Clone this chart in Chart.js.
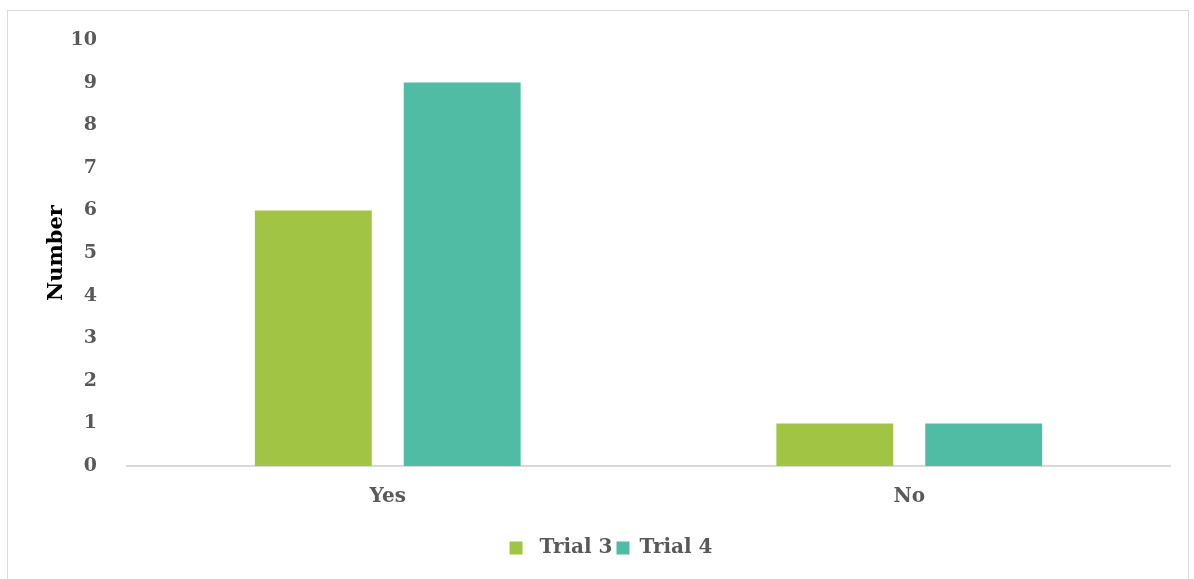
<!DOCTYPE html>
<html>
<head>
  <title>Trial 3 vs Trial 4</title>
  <script src="https://cdn.jsdelivr.net/npm/chart.js"></script>
  <style>
    body { margin: 0; background: #fff; }
    #box { position: absolute; left: 7px; top: 10px; width: 1180px; height: 580px; border: 1px solid #d9d9d9; }
  </style>
</head>
<body>
  <div id="box"><canvas id="trialChart" width="1180" height="568"></canvas></div>
  <script>
    const categories = ["Yes", "No"];
    const trial3 = [6, 1];
    const trial4 = [9, 1];
    const yTicks = [0, 1, 2, 3, 4, 5, 6, 7, 8, 9, 10];

    const font = "'DejaVu Serif', serif";

    // nudge the legend right, Excel-style it sits a little off centre
    const legendShift = {
      id: "legendShift",
      afterLayout(chart) {
        chart.legend.left += 22;
        chart.legend.right += 22;
      }
    };

    const ctx = document.getElementById("trialChart").getContext("2d");
    new Chart(ctx, {
      type: "bar",
      data: {
        labels: categories,
        datasets: [
          { label: " Trial 3", data: trial3, backgroundColor: "#a1c444" },
          { label: "Trial 4", data: trial4, backgroundColor: "#50bca3" }
        ]
      },
      options: {
        responsive: false,
        animation: false,
        datasets: { bar: { categoryPercentage: 0.571, barPercentage: 0.785 } },
        layout: { padding: { left: 0, right: 18, top: 29, bottom: 11 } },
        plugins: {
          tooltip: { enabled: false },
          legend: {
            position: "bottom",
            labels: {
              boxWidth: 13, boxHeight: 13, padding: 4,
              color: "#595959",
              font: { family: font, size: 20, weight: "bold" }
            }
          }
        },
        scales: {
          x: {
            grid: { display: false, drawTicks: false },
            border: { color: "#d9d9d9", width: 2 },
            ticks: { color: "#595959", padding: 19, font: { family: font, size: 20, weight: "bold" } },
            afterFit: s => { s.height = 68; s.paddingTop = 0; }
          },
          y: {
            min: 0, max: 10,
            afterBuildTicks: s => { s.ticks = yTicks.map(v => ({ value: v })); },
            grid: { display: false, drawTicks: false },
            border: { display: false },
            ticks: { color: "#595959", padding: 30, font: { family: font, size: 19, weight: "bold" } },
            title: { display: true, text: "Number", color: "#000", padding: { top: 36 }, font: { family: font, size: 21, weight: "bold" } },
            afterFit: s => { s.width = 119; s.paddingTop = 0; }
          }
        }
      },
      plugins: [legendShift]
    });
  </script>
</body>
</html>
